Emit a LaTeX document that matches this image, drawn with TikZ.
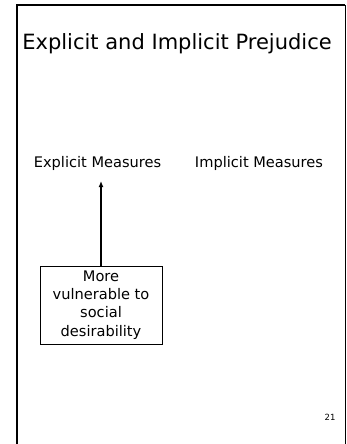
\documentclass[tikz,border=0pt]{standalone}
\usepackage{fontspec}
\setmainfont{DejaVu Sans}
\usetikzlibrary{arrows.meta}
\tikzset{
  frame/.style={draw=black, line width=1.6pt},
  titletext/.style={font=\fontsize{21}{25}\selectfont, inner sep=0pt, anchor=base},
  label/.style={font=\fontsize{14.6}{18}\selectfont, inner sep=0pt, anchor=base},
  notebox/.style={draw=black, line width=0.8pt, align=center, minimum width=122pt, minimum height=78pt, inner sep=2pt, font=\fontsize{14.6}{18.3}\selectfont},
  pagenum/.style={font=\fontsize{8.5}{10}\selectfont, inner sep=0pt},
  conn/.style={line width=1.6pt, -{Latex[length=6pt,width=5pt]}}
}
\begin{document}
\begin{tikzpicture}[x=1pt, y=-1pt]
\useasboundingbox (0,0) rectangle (347,444);
\fill[white] (0,0) rectangle (347,444);
\draw[frame] (17,5) -- (345,5);
\draw[frame] (17,4.2) -- (17,450);
\draw[draw=black, line width=1pt] (345,5) -- (345,450);
\node[titletext] (title) at (177,50) {Explicit and Implicit Prejudice};
\node[label] (explicit) at (97.5,167) {Explicit Measures};
\node[label] (implicit) at (259,167) {Implicit Measures};
\node[notebox] (note) at (101,305) {More\\vulnerable to\\social\\desirability};
\coordinate (tip) at (101,181);
\draw[conn] (note.north) -- (tip);
\node[pagenum] (num) at (330,417) {21};
\end{tikzpicture}
\end{document}
